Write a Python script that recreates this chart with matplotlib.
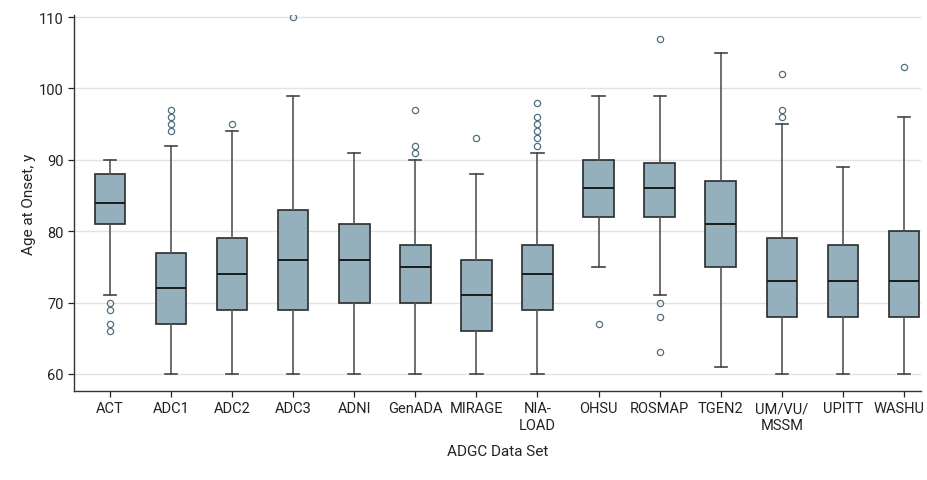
import matplotlib
matplotlib.use("Agg")
import matplotlib.pyplot as plt
import matplotlib.transforms as mtransforms

categories = ["ACT", "ADC1", "ADC2", "ADC3", "ADNI", "GenADA", "MIRAGE", "NIA-\nLOAD",
              "OHSU", "ROSMAP", "TGEN2", "UM/VU/\nMSSM", "UPITT", "WASHU"]
whislo = [71, 60, 60, 60, 60, 60, 60, 60, 75, 71, 61, 60, 60, 60]
q1     = [81, 67, 69, 69, 70, 70, 66, 69, 82, 82, 75, 68, 68, 68]
med    = [84, 72, 74, 76, 76, 75, 71, 74, 86, 86, 81, 73, 73, 73]
q3     = [88, 77, 79, 83, 81, 78, 76, 78, 90, 89.5, 87, 79, 78, 80]
whishi = [90, 92, 94, 99, 91, 90, 88, 91, 99, 99, 105, 95, 89, 96]
fliers = [[70, 69, 67, 66], [94, 95, 96, 97], [95], [110], [], [91, 92, 97], [93],
          [92, 93, 94, 95, 96, 98], [67], [70, 68, 63, 107], [], [96, 97, 102], [], [103]]
yticks = [60, 70, 80, 90, 100, 110]

plt.rcParams['font.family'] = ['Roboto', 'DejaVu Sans']

fig = plt.figure(figsize=(9.27, 4.81), dpi=100)
ax = fig.add_axes([74/927, 1 - 392/481, (921-74)/927, (392-16)/481])

stats = []
for i, c in enumerate(categories):
    stats.append(dict(label=c, whislo=whislo[i], q1=q1[i], med=med[i], q3=q3[i],
                      whishi=whishi[i], fliers=fliers[i]))

ax.bxp(stats, positions=range(len(categories)), widths=0.5, patch_artist=True,
       capwidths=0.2,
       boxprops=dict(facecolor="#94b0bc", edgecolor="#2b2b2b", linewidth=1.2),
       medianprops=dict(color="#1a1a1a", linewidth=1.4),
       whiskerprops=dict(color="#555555", linewidth=1.2),
       capprops=dict(color="#444444", linewidth=1.2),
       flierprops=dict(marker="o", markersize=4.5, markerfacecolor="none",
                       markeredgecolor="#4f6f7f", markeredgewidth=0.9))

ax.set_xlim(-0.59, 13.28)
ax.set_ylim(57.6, 110.3)
ax.set_yticks(yticks)
ax.yaxis.grid(True, color="#e3e3e3", linewidth=1.0)
ax.set_axisbelow(True)
for s in ["top", "right"]:
    ax.spines[s].set_visible(False)
for s in ["left", "bottom"]:
    ax.spines[s].set_color("#333333")
    ax.spines[s].set_linewidth(1.0)
ax.tick_params(axis="both", labelsize=10.5, colors="#222222", length=4, width=0.9)
ax.set_xticklabels(categories, linespacing=1.2)
# keep the last label inside the figure
last = ax.get_xticklabels()[-1]
last.set_transform(last.get_transform() +
                   mtransforms.ScaledTranslation(-5/100, 0, fig.dpi_scale_trans))
ax.set_ylabel("Age at Onset, y", fontsize=11, color="#222222", labelpad=2)
ax.set_xlabel("ADGC Data Set", fontsize=11, color="#222222", labelpad=9)

fig.savefig("out.png", dpi=100)
